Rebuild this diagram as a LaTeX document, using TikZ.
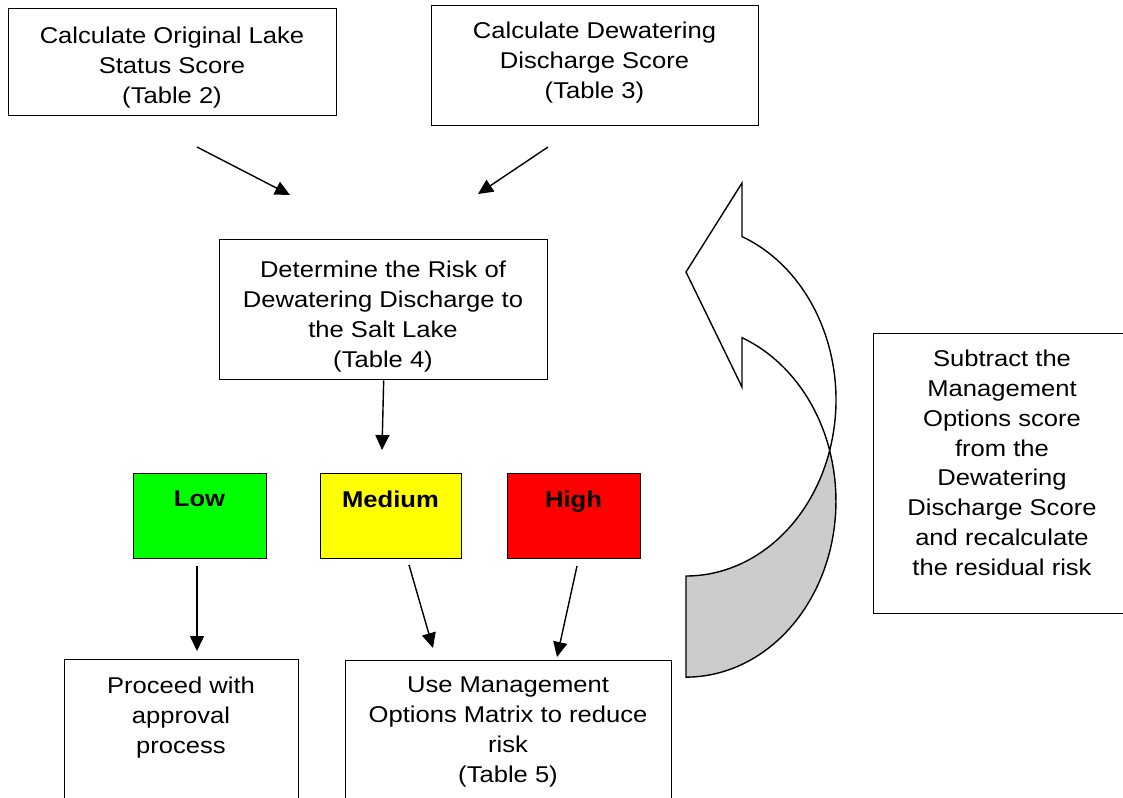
\documentclass[tikz,border=0pt]{standalone}
\usepackage{fontspec}
\setmainfont[FakeStretch=1.12]{Liberation Sans}
\usetikzlibrary{arrows.meta}
\definecolor{lowgreen}{RGB}{0,255,0}
\definecolor{medyellow}{RGB}{255,255,0}
\definecolor{highred}{RGB}{255,0,0}

\begin{document}
\begin{tikzpicture}
[x=0.02cm, y=0.02cm, >={Triangle[length=0.3cm,width=0.28cm]},
 flowbox/.style={draw, line width=0.8pt, anchor=north west, inner sep=0pt},
 ratebox/.style={flowbox, minimum width=2.66cm, minimum height=1.7cm},
 flowtext/.style={anchor=north, align=center, inner sep=0pt, font=\fontsize{13}{17}\selectfont},
 flowarrow/.style={->, line width=0.8pt}]
\useasboundingbox (0,0) rectangle (1123,-798);
\clip (0,0) rectangle (1123,-798);

\node[flowbox, minimum width=6.56cm, minimum height=2.14cm] (origbox) at (8,-8) {};
\node[flowtext] (origtext) at (172,-26.6) {Calculate Original Lake\\Status Score\\(Table 2)};
\node[flowbox, minimum width=6.54cm, minimum height=2.4cm] (dischargebox) at (431,-5) {};
\node[flowtext] (dischargetext) at (594.5,-21.6) {Calculate Dewatering\\Discharge Score\\(Table 3)};
\node[flowbox, minimum width=6.56cm, minimum height=2.8cm] (riskbox) at (219,-239) {};
\node[flowtext] (risktext) at (383,-260.6) {Determine the Risk of\\Dewatering Discharge to\\the Salt Lake\\(Table 4)};
\node[flowbox, minimum width=5.16cm, minimum height=5.6cm] (subtractbox) at (873,-333) {};
\node[flowtext] (subtracttext) at (1002,-349.6) {Subtract the\\Management\\Options score\\from the\\Dewatering\\Discharge Score\\and recalculate\\the residual risk};

\node[ratebox, fill=lowgreen] (lowbox) at (133,-473) {};
\node[flowtext, font=\fontsize{13}{17}\selectfont\bfseries] (lowtext) at (199.5,-490.6) {Low};
\node[ratebox, fill=medyellow, minimum width=2.82cm] (mediumbox) at (320,-473) {};
\node[flowtext, font=\fontsize{13}{17}\selectfont\bfseries] (mediumtext) at (390.5,-490.6) {Medium};
\node[ratebox, fill=highred] (highbox) at (507,-473) {};
\node[flowtext, font=\fontsize{13}{17}\selectfont\bfseries] (hightext) at (573.5,-490.6) {High};

\node[flowbox, minimum width=4.68cm, minimum height=3.4cm] (proceedbox) at (64,-659) {};
\node[flowtext] (proceedtext) at (181,-676.6) {Proceed with\\approval\\process};
\node[flowbox, minimum width=6.52cm, minimum height=3.4cm] (usebox) at (345,-660) {};
\node[flowtext] (usetext) at (508,-676.6) {Use Management\\Options Matrix to reduce\\risk\\(Table 5)};

\coordinate (origout) at (197,-147);
\coordinate (origin) at (290,-195);
\coordinate (dischargeout) at (548,-147);
\coordinate (dischargein) at (478,-194);
\coordinate (riskin) at (382,-450);
\coordinate (lowout) at (197,-566);
\coordinate (lowin) at (197,-651);
\coordinate (mediumout) at (409,-565);
\coordinate (mediumin) at (433,-648);
\coordinate (highout) at (577,-566);
\coordinate (highin) at (557,-657);

\draw[flowarrow] (origout) -- (origin);
\draw[flowarrow] (dischargeout) -- (dischargein);
\draw[flowarrow] (riskbox.south) -- (riskin);
\draw[flowarrow] (lowout) -- (lowin);
\draw[flowarrow] (mediumout) -- (mediumin);
\draw[flowarrow] (highout) -- (highin);

\draw[line width=0.8pt, fill=gray!40] (686,-576)
  arc[start angle=-90, end angle=-16.7, x radius=3cm, y radius=3.52cm]
  arc[start angle=16.7, end angle=-90, x radius=3cm, y radius=3.52cm] -- cycle;
\draw[line width=0.8pt, fill=white] (742,-183) -- (686,-272) -- (742,-387) -- (742,-337.7)
  arc[start angle=68.08, end angle=16.7, x radius=3cm, y radius=3.52cm]
  arc[start angle=-16.7, end angle=68.08, x radius=3cm, y radius=3.52cm] -- cycle;
\end{tikzpicture}
\end{document}
